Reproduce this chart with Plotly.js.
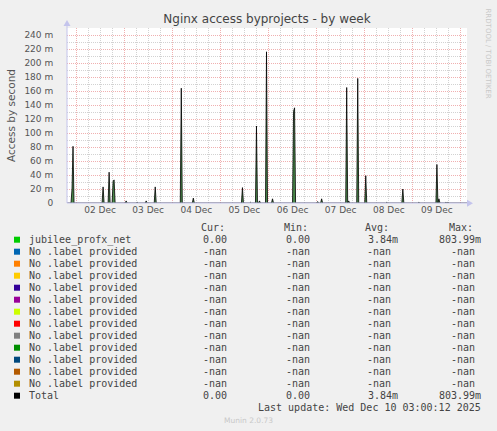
<!DOCTYPE html>
<html>
<head>
<meta charset="utf-8">
<script src="https://cdn.plot.ly/plotly-3.0.1.min.js"></script>
<style>
  html, body { margin: 0; padding: 0; background: #f0f0f0; }
  #graph { width: 497px; height: 431px; }
</style>
</head>
<body>
<div id="graph"></div>
<script>
// Spikes: start of each burst (30 min steps) and its values in milli-requests/s
const spikeStarts = [
    '2025-12-01 22:00', '2025-12-02 13:30', '2025-12-02 16:30', '2025-12-02 18:30',
    '2025-12-03 01:00', '2025-12-03 06:30', '2025-12-03 11:00', '2025-12-03 15:30',
    '2025-12-04 00:30', '2025-12-04 04:30', '2025-12-04 10:30',
    '2025-12-05 00:30', '2025-12-05 06:30', '2025-12-05 11:00', '2025-12-05 15:00',
    '2025-12-05 16:30', '2025-12-05 18:00', '2025-12-05 19:30', '2025-12-05 23:00',
    '2025-12-06 02:00', '2025-12-06 07:30', '2025-12-06 12:30',
    '2025-12-07 00:30', '2025-12-07 02:30', '2025-12-07 08:30', '2025-12-07 15:00',
    '2025-12-07 16:00', '2025-12-07 20:30',
    '2025-12-08 00:30', '2025-12-08 11:00', '2025-12-08 19:00',
    '2025-12-09 03:00', '2025-12-09 12:00', '2025-12-09 13:00', '2025-12-09 16:30',
    '2025-12-09 17:30', '2025-12-09 20:30'
];
const spikeValues = [
    [20, 81], [23], [44], [31, 33],
    [3], [1], [3], [23],
    [1], [164], [7],
    [1], [1], [22], [1],
    [1], [110], [3], [216],
    [6], [1], [131, 136],
    [2], [6], [1], [165],
    [3], [178],
    [39], [1], [20],
    [1], [55], [6], [1],
    [1], [1]
];
const graphStart = '2025-12-01 19:30';
const graphEnd = '2025-12-10 03:00';

// y axis tick labels
const yTickVals = [0, 20, 40, 60, 80, 100, 120, 140, 160, 180, 200, 220, 240];
const yTickText = ['0', '20 m', '40 m', '60 m', '80 m', '100 m', '120 m', '140 m', '160 m', '180 m', '200 m', '220 m', '240 m'];

// legend table
const legendNames = ['jubilee_profx_net', 'No .label provided', 'No .label provided', 'No .label provided',
    'No .label provided', 'No .label provided', 'No .label provided', 'No .label provided',
    'No .label provided', 'No .label provided', 'No .label provided', 'No .label provided',
    'No .label provided', 'Total'];
const legendColors = ['#00cc00', '#0066b3', '#ff8000', '#ffcc00', '#330099', '#990099', '#ccff00',
    '#ff0000', '#808080', '#008f00', '#00487d', '#b35a00', '#b38f00', '#000000'];
const curValues = ['0.00', '-nan', '-nan', '-nan', '-nan', '-nan', '-nan', '-nan', '-nan', '-nan', '-nan', '-nan', '-nan', '0.00'];
const minValues = ['0.00', '-nan', '-nan', '-nan', '-nan', '-nan', '-nan', '-nan', '-nan', '-nan', '-nan', '-nan', '-nan', '0.00'];
const avgValues = ['3.84m', '-nan', '-nan', '-nan', '-nan', '-nan', '-nan', '-nan', '-nan', '-nan', '-nan', '-nan', '-nan', '3.84m'];
const maxValues = ['803.99m', '-nan', '-nan', '-nan', '-nan', '-nan', '-nan', '-nan', '-nan', '-nan', '-nan', '-nan', '-nan', '803.99m'];

const HALF_HOUR = 30 * 60 * 1000;

// plot box in pixels
const W = 497, H = 431;
const L = 67, R = 467, T = 28, B = 203;

function toMs(s) {
    return Date.parse(s.replace(' ', 'T') + ':00Z');
}
function px(x) { return (x - L) / (R - L); }
function py(y) { return (B - y) / (B - T); }

function buildSeries() {
    const x = [toMs(graphStart)];
    const y = [0];
    spikeStarts.forEach((s, i) => {
        const t0 = toMs(s);
        const vals = spikeValues[i];
        x.push(t0 - HALF_HOUR); y.push(0);
        vals.forEach((v, j) => { x.push(t0 + j * HALF_HOUR); y.push(v); });
        x.push(t0 + vals.length * HALF_HOUR); y.push(0);
    });
    x.push(toMs(graphEnd)); y.push(0);
    return { x: x, y: y };
}

function drawGraph() {
    const series = buildSeries();

    const area = {
        x: series.x, y: series.y,
        type: 'scatter', mode: 'lines',
        fill: 'tozeroy', fillcolor: '#4a8a4a',
        line: { width: 0, color: '#4a8a4a' },
        hoverinfo: 'none'
    };
    const total = {
        x: series.x, y: series.y,
        type: 'scatter', mode: 'lines',
        line: { width: 0.8, color: '#000000' },
        hoverinfo: 'none'
    };

    const mono = { family: 'DejaVu Sans Mono', size: 10, color: '#444' };
    const annotations = [];
    const shapes = [];

    // axis lines with arrows
    const axisColor = '#c4c4ec';
    shapes.push({ type: 'line', xref: 'paper', yref: 'paper', x0: 0, x1: px(468), y0: 0, y1: 0,
        line: { color: axisColor, width: 1 } });
    shapes.push({ type: 'line', xref: 'paper', yref: 'paper', x0: 0, x1: 0, y0: 0, y1: py(24),
        line: { color: axisColor, width: 1 } });
    shapes.push({ type: 'path', xref: 'paper', yref: 'paper', fillcolor: axisColor, line: { width: 0 },
        path: 'M' + px(467) + ',' + py(199.8) + ' L' + px(467) + ',' + py(206.8) + ' L' + px(473) + ',' + py(203.3) + ' Z' });
    shapes.push({ type: 'path', xref: 'paper', yref: 'paper', fillcolor: axisColor, line: { width: 0 },
        path: 'M' + px(63.5) + ',' + py(26) + ' L' + px(70.5) + ',' + py(26) + ' L' + px(67) + ',' + py(20) + ' Z' });

    // header row
    const headers = [['Cur:', 199.3], ['Min:', 281.7], ['Avg:', 363.3], ['Max:', 446.7]];
    headers.forEach(h => {
        annotations.push({ xref: 'paper', yref: 'paper', x: px(h[1]), y: py(227.3), xanchor: 'left', yanchor: 'middle',
            text: h[0], showarrow: false, font: mono });
    });

    legendNames.forEach((name, i) => {
        const rowY = 239.7 + i * 12;
        shapes.push({ type: 'rect', xref: 'paper', yref: 'paper',
            x0: px(14), x1: px(20), y0: py(rowY - 3), y1: py(rowY + 3),
            fillcolor: legendColors[i], line: { width: 0 } });
        annotations.push({ xref: 'paper', yref: 'paper', x: px(26.5), y: py(rowY), xanchor: 'left', yanchor: 'middle',
            text: name.replace(/ /g, '&nbsp;'), showarrow: false, font: mono });
        const cols = [
            [curValues[i], 229],
            [minValues[i], 311.7],
            [avgValues[i], avgValues[i] === '-nan' ? 393.3 : 400],
            [maxValues[i], maxValues[i] === '-nan' ? 476.7 : 482.7]
        ];
        cols.forEach(c => {
            annotations.push({ xref: 'paper', yref: 'paper', x: px(c[1]), y: py(rowY), xanchor: 'right', yanchor: 'middle',
                text: c[0], showarrow: false, font: mono });
        });
    });

    annotations.push({ xref: 'paper', yref: 'paper', x: px(482.7), y: py(407.7), xanchor: 'right', yanchor: 'middle',
        text: 'Last&nbsp;update:&nbsp;Wed&nbsp;Dec&nbsp;10&nbsp;03:00:12&nbsp;2025', showarrow: false, font: mono });
    annotations.push({ xref: 'paper', yref: 'paper', x: px(248), y: py(420.5), xanchor: 'center', yanchor: 'middle',
        text: 'Munin 2.0.73', showarrow: false, font: { family: 'DejaVu Sans', size: 7.5, color: '#c8c8c8' } });
    annotations.push({ xref: 'paper', yref: 'paper', x: px(487.5), y: py(53), xanchor: 'center', yanchor: 'middle',
        text: 'RRDTOOL / TOBI OETIKER', textangle: 90, showarrow: false,
        font: { family: 'DejaVu Sans', size: 7, color: '#c8c8c8' } });
    annotations.push({ xref: 'paper', yref: 'paper', x: px(11), y: py(115), xanchor: 'center', yanchor: 'middle',
        text: 'Access by second', textangle: -90, showarrow: false,
        font: { family: 'DejaVu Sans', size: 10.5, color: '#555' } });

    const layout = {
        width: W, height: H,
        autosize: false,
        margin: { l: L, r: W - R, t: T, b: H - B, pad: 0 },
        paper_bgcolor: '#f0f0f0',
        plot_bgcolor: '#ffffff',
        showlegend: false,
        title: {
            text: 'Nginx access byprojects - by week',
            font: { family: 'DejaVu Sans', size: 12, color: '#444' },
            x: 0.5, xanchor: 'center', xref: 'paper',
            y: 1 - 19 / H, yanchor: 'middle'
        },
        xaxis: {
            type: 'date',
            range: [graphStart, graphEnd],
            tick0: '2025-12-02 00:00',
            dtick: 86400000,
            tickformat: '%d %b',
            ticklabelmode: 'period',
            ticks: '',
            showgrid: true,
            gridcolor: '#f0b0b0',
            griddash: '1px,1px',
            gridwidth: 1,
            minor: { dtick: 6 * 3600000, showgrid: true, gridcolor: '#d2d2d2', griddash: '1px,1px', gridwidth: 1 },
            zeroline: false,
            showline: false,
            tickfont: { family: 'DejaVu Sans', size: 9, color: '#555' },
            fixedrange: true
        },
        yaxis: {
            range: [0, 250],
            tickvals: yTickVals,
            ticktext: yTickText,
            ticks: 'outside',
            ticklen: 11,
            tickcolor: 'rgba(0,0,0,0)',
            showgrid: true,
            gridcolor: '#f0b0b0',
            griddash: '1px,1px',
            gridwidth: 1,
            minor: { dtick: 10, showgrid: true, gridcolor: '#d2d2d2', griddash: '1px,1px', gridwidth: 1 },
            zeroline: false,
            showline: false,
            tickfont: { family: 'DejaVu Sans', size: 9, color: '#555' },
            fixedrange: true
        },
        shapes: shapes,
        annotations: annotations
    };

    Plotly.newPlot('graph', [area, total], layout, { displayModeBar: false, staticPlot: true });
}

document.addEventListener('DOMContentLoaded', drawGraph);
</script>
</body>
</html>
